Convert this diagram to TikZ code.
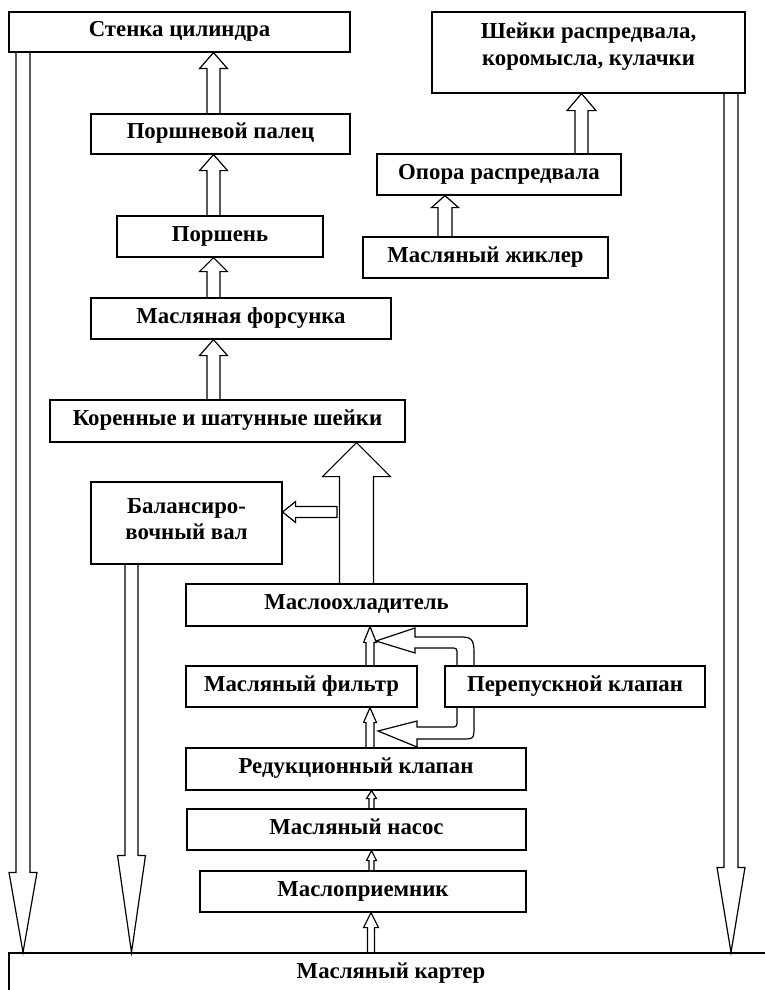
\documentclass[tikz,border=0pt]{standalone}
\usepackage{fontspec}
\setmainfont{Liberation Serif}
\usetikzlibrary{calc}
\tikzset{
  box/.style={draw, line width=1.2pt, rectangle, inner sep=0pt,
    font=\bfseries\fontsize{22.8}{27}\selectfont, text height=12pt, text depth=3pt},
  lbl/.style={inner sep=0pt, align=center, font=\bfseries\fontsize{22.8}{27}\selectfont},
  blk/.style={draw, line width=1.2pt, line join=miter},
}
\newcommand\BoxN[6]{\node[box, minimum width={(#4-#2)*1pt}, minimum height={(#5-#3)*1pt}] (#1) at ({(#2+#4)/2},{(#3+#5)/2}) {#6};}
% up arrow: #1 source, #2 target, #3 x centre, #4 shaft half, #5 head half, #6 head length
\newcommand\UpArr[6]{\draw[blk] let \p1=(#1.north), \p2=(#2.south) in
  ({(#3-#4)*1pt},\y1) -- ({(#3-#4)*1pt},{\y2-#6pt}) -- ({(#3-#5)*1pt},{\y2-#6pt}) -- ({#3*1pt},\y2)
  -- ({(#3+#5)*1pt},{\y2-#6pt}) -- ({(#3+#4)*1pt},{\y2-#6pt}) -- ({(#3+#4)*1pt},\y1);}
\newcommand\DownArr[6]{\draw[blk] let \p1=(#1.south), \p2=(#2.north) in
  ({(#3-#4)*1pt},\y1) -- ({(#3-#4)*1pt},{\y2+#6pt}) -- ({(#3-#5)*1pt},{\y2+#6pt}) -- ({#3*1pt},\y2)
  -- ({(#3+#5)*1pt},{\y2+#6pt}) -- ({(#3+#4)*1pt},{\y2+#6pt}) -- ({(#3+#4)*1pt},\y1);}
\begin{document}
\begin{tikzpicture}[x=1pt,y=-1pt]
\useasboundingbox (0,0) rectangle (765,990);
% boxes
\BoxN{wall}{9}{12}{350}{52}{Стенка цилиндра}
\BoxN{pin}{91}{114}{350}{154}{Поршневой палец}
\BoxN{piston}{117}{216}{323}{257}{Поршень}
\BoxN{jet}{91}{298}{391}{339}{Масляная форсунка}
\BoxN{journ}{50}{400}{405}{442}{Коренные и шатунные шейки}
\BoxN{bal}{91}{482}{282}{564}{}
\node[lbl, font=\bfseries\fontsize{22.8}{26}\selectfont] (baltext) at (186.5,519) {Балансиро-\\вочный вал};
\BoxN{cool}{186}{584}{527}{626}{Маслоохладитель}
\BoxN{filt}{186}{666}{417}{707}{Масляный фильтр}
\BoxN{byp}{445}{666}{705}{707}{Перепускной клапан}
\BoxN{red}{186}{748}{526}{790}{Редукционный клапан}
\BoxN{pump}{187}{809}{526}{850}{Масляный насос}
\BoxN{pick}{200}{871}{526}{912}{Маслоприемник}
\BoxN{sump}{9}{953}{773}{995}{Масляный картер}
\BoxN{cam}{432}{12}{745}{93}{}
\node[lbl] (camtext) at (588.5,47) {Шейки распредвала,\\коромысла, кулачки};
\BoxN{supp}{377}{154}{621}{195}{Опора распредвала}
\BoxN{nozz}{363}{237}{608}{278}{Масляный жиклер}
% block arrows
\UpArr{pin}{wall}{213.5}{6.5}{14}{16}
\UpArr{piston}{pin}{213.5}{6.5}{14}{16}
\UpArr{jet}{piston}{213.5}{6.5}{14}{14}
\UpArr{journ}{jet}{213.5}{6.5}{14}{16}
\UpArr{cool}{journ}{356.5}{17}{34}{34}
\UpArr{filt}{cool}{370}{4}{6.5}{16}
\UpArr{red}{filt}{370}{4}{6.5}{15}
\UpArr{pump}{red}{371.5}{2.5}{5}{8}
\UpArr{pick}{pump}{371.5}{2.5}{5}{10}
\UpArr{sump}{pick}{371}{3.5}{7.5}{15}
\UpArr{supp}{cam}{581.5}{6.5}{14.5}{17}
\UpArr{nozz}{supp}{445}{7}{13.5}{12}
\DownArr{wall}{sump}{23}{7}{14}{80}
\DownArr{bal}{sump}{131.5}{6.5}{14}{97}
\DownArr{cam}{sump}{731}{7}{14}{85}
% branch to balance shaft
\coordinate (balsrc) at (337,512);
\draw[blk] let \p1=(balsrc), \p2=(bal.east) in
  (\x1,{\y1+5.5pt}) -- ({\x2+13pt},{\y1+5.5pt}) -- ({\x2+13pt},{\y1+10.5pt}) -- (\x2,\y1)
  -- ({\x2+13pt},{\y1-10.5pt}) -- ({\x2+13pt},{\y1-5.5pt}) -- (\x1,{\y1-5.5pt}) -- cycle;
% bypass valve arrows
\coordinate (tipA) at (376,641);
\coordinate (tipB) at (378,731);
\draw[blk] let \p1=(byp.north) in
  (474pt,\y1) -- (474,652) .. controls (474,638) and (470,637) .. (460,637) -- (415,637) -- (415,628)
  -- (tipA) -- (415,653) -- (415,648) -- (450,648) .. controls (457,648) .. (457,655) -- (457pt,\y1);
\draw[blk] let \p1=(byp.south) in
  (474pt,\y1) -- (474,726) .. controls (474,739) .. (461,739) -- (417,739) -- (417,747)
  -- (tipB) -- (417,721) -- (417,727) -- (450,727) .. controls (457,727) .. (457,720) -- (457pt,\y1);
\end{tikzpicture}
\end{document}
